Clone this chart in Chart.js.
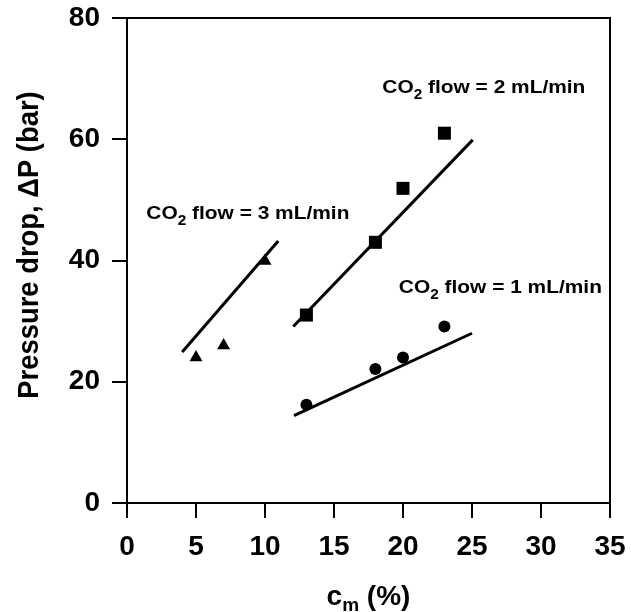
<!DOCTYPE html>
<html>
<head>
<meta charset="utf-8">
<script src="https://cdn.jsdelivr.net/npm/chart.js@4/dist/chart.umd.min.js"></script>
<style>
  html, body { margin: 0; padding: 0; background: #fff; }
  canvas { display: block; }
</style>
</head>
<body>
<canvas id="dpChart" width="631" height="612"></canvas>
<script>
// measured pressure drop vs. modifier concentration
var flow1X = [13, 18, 20, 23];
var flow1Y = [16.2, 22.1, 24, 29.1];
var flow2X = [13, 18, 20, 23];
var flow2Y = [31, 43, 51.9, 61];
var flow3X = [5, 7, 10];
var flow3Y = [24, 26, 39.9];

// straight-line fits (end points)
var fit1X = [12.1, 25];
var fit1Y = [14.4, 28];
var fit2X = [12.05, 25.05];
var fit2Y = [29.1, 59.9];
var fit3X = [4, 10.96];
var fit3Y = [24.9, 43.2];

// axis ticks
var xTicks = [0, 5, 10, 15, 20, 25, 30, 35];
var yTicks = [0, 20, 40, 60, 80];

// series captions: [normal, subscript, normal]
var captions = [
  ["CO", "2", " flow = 1 mL/min"],
  ["CO", "2", " flow = 2 mL/min"],
  ["CO", "2", " flow = 3 mL/min"]
];
// caption anchors in data units (left edge, baseline)
var captionAt = [[19.7, 34.6], [18.5, 67.6], [1.4, 46.8]];

var FONT = "'Liberation Sans', Arial, Helvetica, sans-serif";

function pts(xs, ys) {
  return xs.map(function(x, i) { return { x: x, y: ys[i] }; });
}

function drawRuns(ctx, runs, x, y, size, subSize, drop) {
  runs.forEach(function(r) {
    var sub = r[1];
    ctx.font = "bold " + (sub ? subSize : size) + "px " + FONT;
    ctx.fillText(r[0], x, sub ? y + drop : y);
    x += ctx.measureText(r[0]).width;
  });
}

// fixed axis box, no auto padding for overhanging labels
function fixBox(size, horizontal) {
  return function(s) {
    if (horizontal) s.height = size; else s.width = size;
    s.paddingTop = 0; s.paddingBottom = 0; s.paddingLeft = 0; s.paddingRight = 0;
  };
}

// frame on top/right, captions and axis titles
var extras = {
  id: "extras",
  afterDraw: function(chart) {
    var ctx = chart.ctx, a = chart.chartArea;
    var xs = chart.scales.x, ys = chart.scales.y;
    ctx.save();
    ctx.strokeStyle = "#000";
    ctx.lineWidth = 2;
    ctx.beginPath();
    ctx.moveTo(a.left, a.top);
    ctx.lineTo(a.right, a.top);
    ctx.lineTo(a.right, a.bottom);
    ctx.stroke();

    ctx.fillStyle = "#000";
    ctx.textAlign = "left";
    ctx.textBaseline = "alphabetic";
    captions.forEach(function(c, i) {
      var px = xs.getPixelForValue(captionAt[i][0]);
      var py = ys.getPixelForValue(captionAt[i][1]);
      ctx.save();
      ctx.translate(px, py);
      ctx.scale(1.1, 1);
      drawRuns(ctx, [[c[0], false], [c[1], true], [c[2], false]], 0, 0, 19, 14, 6);
      ctx.restore();
    });

    // x title: c_m (%)
    var xRuns = [["c", false], ["m", true], [" (%)", false]];
    ctx.font = "bold 28px " + FONT;
    var w = ctx.measureText("c").width + ctx.measureText(" (%)").width;
    ctx.font = "bold 19px " + FONT;
    w += ctx.measureText("m").width;
    drawRuns(ctx, xRuns, (a.left + a.right) / 2 - w / 2, 605, 28, 19, 6);

    // y title
    ctx.save();
    ctx.translate(30, 245);
    ctx.rotate(-Math.PI / 2);
    ctx.scale(0.913, 1);
    ctx.textAlign = "center";
    ctx.textBaseline = "middle";
    ctx.font = "bold 30px " + FONT;
    ctx.fillText("Pressure drop, \u0394P (bar)", 0, 0);
    ctx.restore();

    ctx.restore();
  }
};

var lineStyle = { showLine: true, pointRadius: 0, borderColor: "#000", borderWidth: 3, fill: false };

var config = {
  type: "scatter",
  data: {
    datasets: [
      Object.assign({ data: pts(fit1X, fit1Y) }, lineStyle),
      Object.assign({ data: pts(fit2X, fit2Y) }, lineStyle),
      Object.assign({ data: pts(fit3X, fit3Y) }, lineStyle),
      { data: pts(flow1X, flow1Y), pointStyle: "circle", pointRadius: 6, backgroundColor: "#000", borderWidth: 0 },
      { data: pts(flow2X, flow2Y), pointStyle: "rect", pointRadius: 9.2, backgroundColor: "#000", borderWidth: 0 },
      { data: pts(flow3X, flow3Y), pointStyle: "triangle", pointRadius: 7.5, backgroundColor: "#000", borderWidth: 0 }
    ]
  },
  options: {
    responsive: false,
    animation: false,
    devicePixelRatio: 1,
    layout: { padding: { top: 18, right: 21, left: 0, bottom: 0 } },
    plugins: { legend: { display: false }, tooltip: { enabled: false } },
    scales: {
      x: {
        type: "linear",
        min: 0,
        max: 35,
        afterBuildTicks: function(s) { s.ticks = xTicks.map(function(v) { return { value: v }; }); },
        afterFit: fixBox(109, true),
        ticks: { color: "#000", padding: 12, font: { family: FONT, size: 28, weight: "bold" } },
        grid: { drawOnChartArea: false, tickLength: 15, color: "#000", lineWidth: 2 },
        border: { color: "#000", width: 2 }
      },
      y: {
        type: "linear",
        min: 0,
        max: 80,
        afterBuildTicks: function(s) { s.ticks = yTicks.map(function(v) { return { value: v }; }); },
        afterFit: fixBox(127, false),
        ticks: { color: "#000", padding: 12, font: { family: FONT, size: 28, weight: "bold" } },
        grid: { drawOnChartArea: false, tickLength: 15, color: "#000", lineWidth: 2 },
        border: { color: "#000", width: 2 }
      }
    }
  },
  plugins: [extras]
};

new Chart(document.getElementById("dpChart").getContext("2d"), config);
</script>
</body>
</html>
